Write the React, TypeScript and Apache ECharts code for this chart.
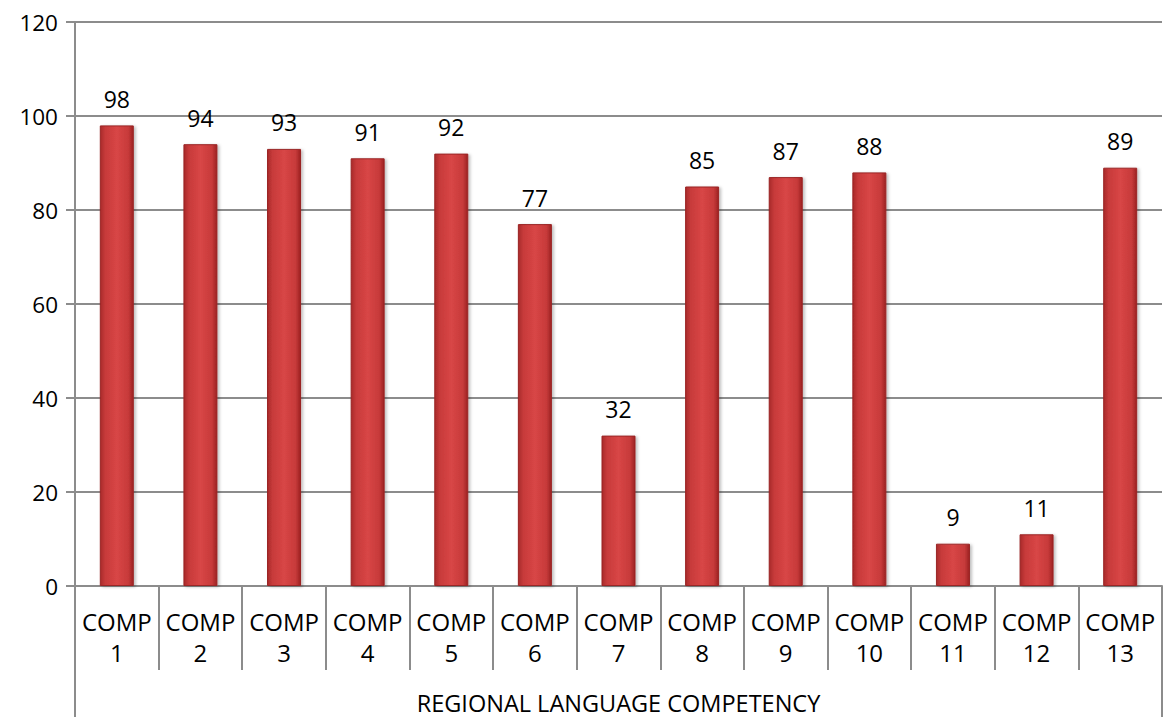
import React, { useEffect, useRef } from "react";
import * as echarts from "echarts";

const categories = [
  "COMP\n1", "COMP\n2", "COMP\n3", "COMP\n4", "COMP\n5", "COMP\n6", "COMP\n7",
  "COMP\n8", "COMP\n9", "COMP\n10", "COMP\n11", "COMP\n12", "COMP\n13",
];
const values = [98, 94, 93, 91, 92, 77, 32, 85, 87, 88, 9, 11, 89];
const groupLabel = ["REGIONAL LANGUAGE COMPETENCY"];
const yMin = 0;
const yMax = 120;
const yStep = 20;

const FONT = "Open Sans";
const GRAY = "#8c8c8c";

export default function App() {
  const ref = useRef<HTMLDivElement>(null);
  useEffect(() => {
    if (!ref.current) return;
    const chart = echarts.init(ref.current, null, { renderer: "svg" });
    chart.setOption({
      animation: false,
      backgroundColor: "#ffffff",
      grid: { left: 75, right: 4, top: 22, bottom: 131, containLabel: false },
      xAxis: [
        {
          type: "category",
          data: categories,
          position: "bottom",
          boundaryGap: true,
          axisLine: { show: true, lineStyle: { color: GRAY, width: 2 } },
          axisTick: { show: true, interval: 0, length: 84, lineStyle: { color: GRAY, width: 2 } },
          axisLabel: {
            interval: 0,
            margin: 20,
            fontFamily: FONT,
            fontSize: 24,
            lineHeight: 31,
            color: "#000",
          },
        },
        {
          type: "category",
          data: groupLabel,
          position: "bottom",
          boundaryGap: true,
          axisLine: { show: false },
          axisTick: { show: true, interval: 0, length: 131, lineStyle: { color: GRAY, width: 2 } },
          axisLabel: {
            interval: 0,
            margin: 106,
            fontFamily: FONT,
            fontSize: 23.5,
            lineHeight: 21,
            color: "#000",
          },
        },
      ],
      yAxis: {
        type: "value",
        min: yMin,
        max: yMax,
        interval: yStep,
        axisLine: { show: true, lineStyle: { color: GRAY, width: 2 } },
        axisTick: { show: true, length: 9, lineStyle: { color: GRAY, width: 2 } },
        splitLine: { show: true, lineStyle: { color: GRAY, width: 2 } },
        axisLabel: { margin: 17, fontFamily: FONT, fontSize: 22.5, color: "#000" },
      },
      series: [
        {
          type: "bar",
          data: values,
          xAxisIndex: 0,
          barWidth: 34,
          itemStyle: {
            color: new echarts.graphic.LinearGradient(0, 0, 1, 0, [
              { offset: 0, color: "#a82a2a" },
              { offset: 0.15, color: "#c73a3a" },
              { offset: 0.5, color: "#d84646" },
              { offset: 0.85, color: "#c73a3a" },
              { offset: 1, color: "#9c2222" },
            ]),
            borderColor: "#9a2525",
            borderWidth: 1,
            shadowColor: "rgba(0,0,0,0.25)",
            shadowBlur: 3,
            shadowOffsetX: 2,
            shadowOffsetY: 1,
          },
          label: {
            show: true,
            position: "top",
            distance: 15,
            fontFamily: FONT,
            fontSize: 23,
            color: "#000",
          },
        },
      ],
    });
    return () => chart.dispose();
  }, []);
  return <div ref={ref} style={{ width: 1166, height: 717, position: "absolute", left: 0, top: 0 }} />;
}
